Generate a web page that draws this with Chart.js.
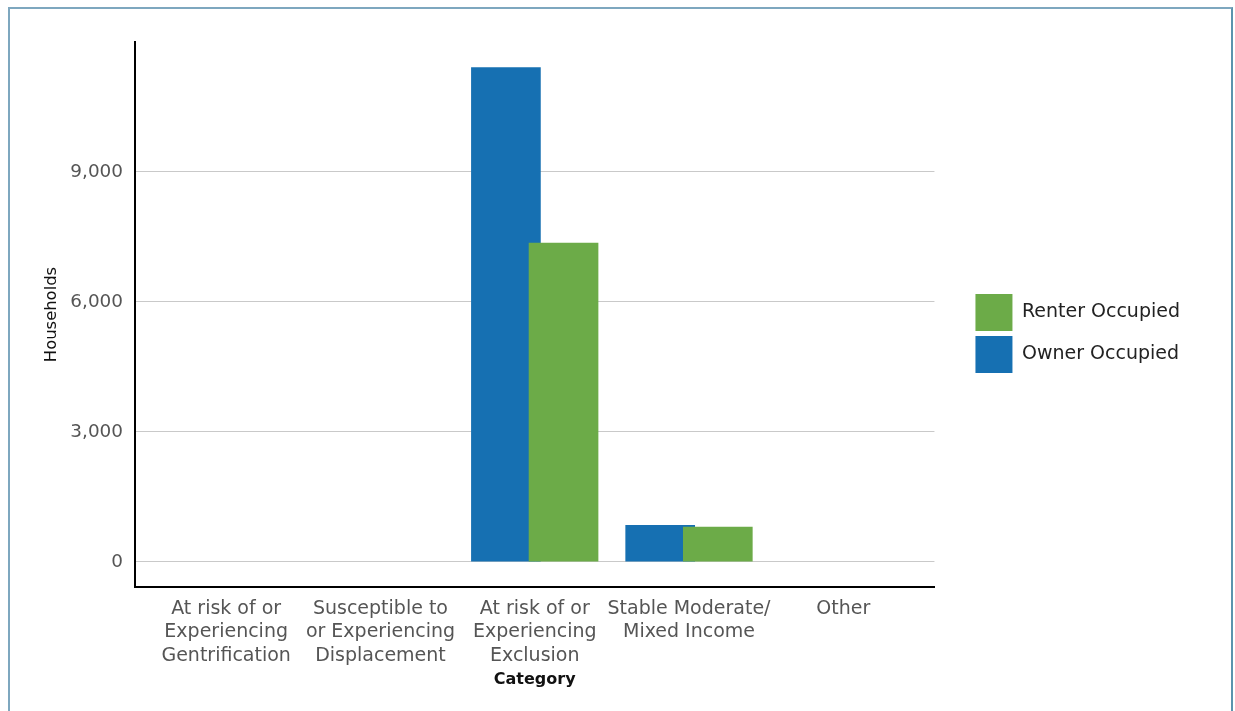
<!DOCTYPE html>
<html>
<head>
<meta charset="utf-8">
<script src="https://cdn.jsdelivr.net/npm/chart.js@4/dist/chart.umd.min.js"></script>
<style>
  html, body { margin: 0; padding: 0; background: #fff; width: 1235px; height: 711px; overflow: hidden; }
  #frame { position: absolute; left: 8px; top: 7px; width: 1225px; height: 730px; box-sizing: border-box;
           border: 2px solid #7ea7bf; border-right-color: #5b93ad; }
  #c { position: absolute; left: 0; top: 0; }
</style>
</head>
<body>
<div id="frame"><canvas id="c" width="1220" height="702"></canvas></div>
<script>
// ---- data ----
const categories = [
  ['At risk of or', 'Experiencing', 'Gentrification'],
  ['Susceptible to', 'or Experiencing', 'Displacement'],
  ['At risk of or', 'Experiencing', 'Exclusion'],
  ['Stable Moderate/', 'Mixed Income'],
  ['Other']
];
const ownerOccupied = [0, 0, 11420, 855, 0];
const renterOccupied = [0, 0, 7365, 815, 0];
const yTicks = [0, 3000, 6000, 9000];

const BLUE = '#1670b2';
const GREEN = '#6cab48';
const FONT = "'DejaVu Sans', sans-serif";

Chart.defaults.font.family = FONT;

const toPoints = arr => arr.map((v, i) => ({ x: i, y: v }));

// draw Owner first, Renter on top
const drawOrder = {
  id: 'drawOrder',
  beforeDatasetsDraw(chart) {
    const ctx = chart.ctx;
    ctx.save();
    [0, 1].forEach(i => {
      const m = chart.getDatasetMeta(i);
      if (!m.hidden) m.controller.draw();
    });
    ctx.restore();
    return false;
  }
};

new Chart(document.getElementById('c'), {
  type: 'bar',
  data: {
    datasets: [
      { label: 'Owner Occupied', data: toPoints(ownerOccupied), backgroundColor: BLUE, borderWidth: 0 },
      { label: 'Renter Occupied', data: toPoints(renterOccupied), backgroundColor: GREEN, borderWidth: 0 }
    ]
  },
  options: {
    responsive: false,
    animation: false,
    datasets: { bar: { categoryPercentage: 0.747, barPercentage: 1.209 } },
    layout: { padding: { left: 0, top: 33, right: 40, bottom: 0 } },
    plugins: {
      tooltip: { enabled: false },
      legend: {
        position: 'right',
        fullSize: false,
        align: 'center',
        maxWidth: 300,
        title: { display: true, text: '', font: { size: 10, lineHeight: 1 }, padding: { top: 28, bottom: 0 } },
        labels: {
          boxWidth: 37,
          boxHeight: 37,
          padding: 5,
          color: '#222',
          font: { size: 19, family: FONT },
          sort: (a, b) => b.datasetIndex - a.datasetIndex
        }
      }
    },
    scales: {
      x: {
        type: 'linear',
        offset: false,
        min: -0.591,
        max: 4.591,
        afterBuildTicks: s => { s.ticks = categories.map((c, i) => ({ value: i })); },
        afterFit: s => { s.height = 124; },
        grid: { display: false, drawTicks: false, offset: false },
        border: { display: true, color: '#000', width: 2 },
        ticks: {
          autoSkip: false,
          maxRotation: 0,
          minRotation: 0,
          padding: 10,
          color: '#555',
          font: { size: 19, lineHeight: 1.24 },
          callback: v => categories[v]
        },
        title: {
          display: true,
          text: 'Category',
          color: '#111',
          font: { size: 16, weight: 'bold', lineHeight: 1.2 },
          padding: { top: 0, bottom: 22 }
        }
      },
      y: {
        type: 'linear',
        min: -577,
        max: 12000,
        afterBuildTicks: s => { s.ticks = yTicks.map(v => ({ value: v })); },
        afterFit: s => { s.width = 125; },
        grid: { color: '#c9c9c9', lineWidth: 1, drawTicks: false },
        border: { display: true, color: '#000', width: 2 },
        ticks: {
          padding: 12,
          color: '#555',
          font: { size: 18.4 },
          callback: v => v.toLocaleString('en-US')
        },
        title: {
          display: true,
          text: 'Households',
          color: '#111',
          font: { size: 16.4, lineHeight: 1.2 },
          padding: { top: 32, bottom: 0 }
        }
      },
      yR: {
        type: 'linear',
        position: 'right',
        display: true,
        afterFit: s => { s.width = 36; },
        grid: { display: false, drawTicks: false },
        border: { display: false },
        ticks: { display: false }
      }
    }
  },
  plugins: [drawOrder]
});
</script>
</body>
</html>
